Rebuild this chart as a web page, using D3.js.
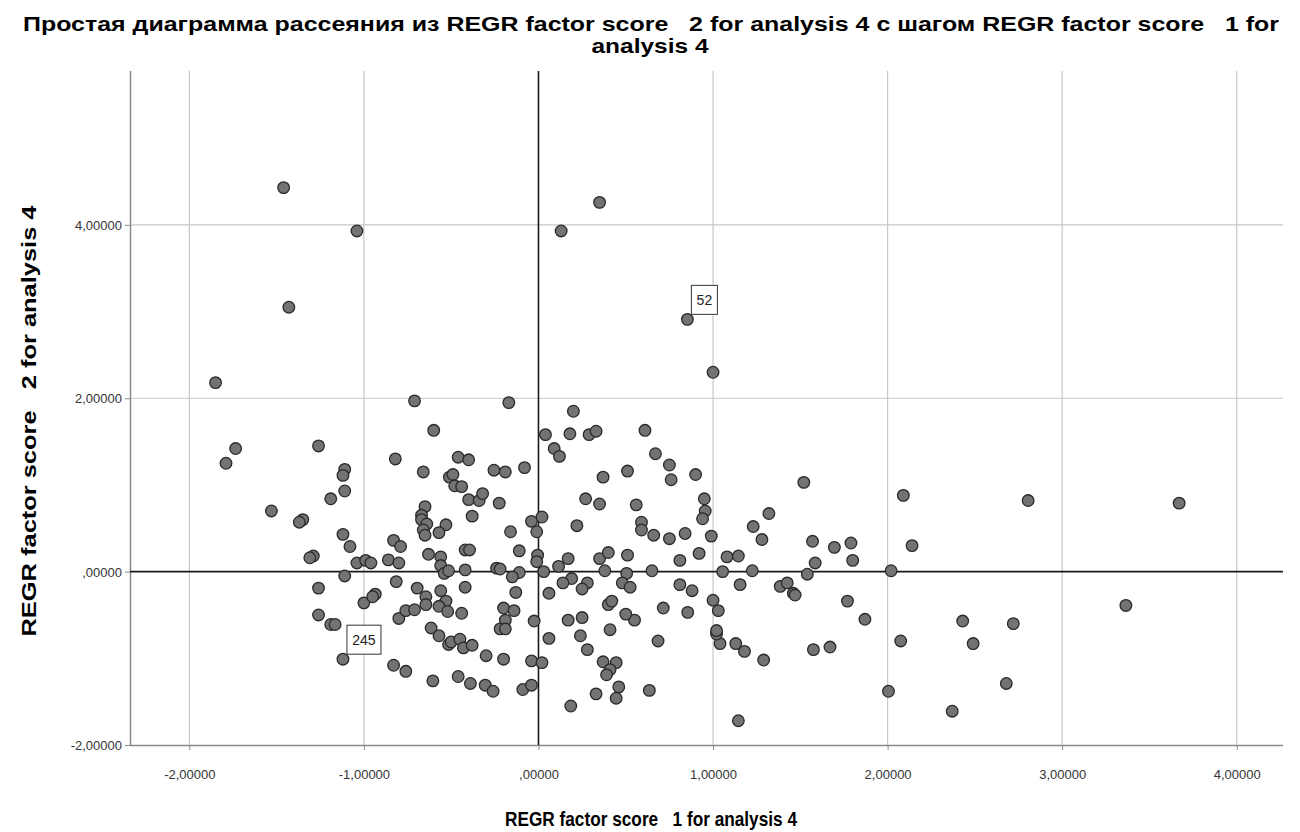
<!DOCTYPE html>
<html>
<head>
<meta charset="utf-8">
<script src="https://cdn.jsdelivr.net/npm/d3@7/dist/d3.min.js"></script>
<style>
  html, body { margin: 0; padding: 0; background: #fff; }
  svg { display: block; }
  text { white-space: pre; }
</style>
</head>
<body>
<svg id="chart" width="1300" height="832"></svg>
<script>
// ---------- DATA ----------
const titleLines = [
  "Простая диаграмма рассеяния из REGR factor score   2 for analysis 4 с шагом REGR factor score   1 for",
  "analysis 4"
];
const xTitle = "REGR factor score   1 for analysis 4";
const yTitle = "REGR factor score   2 for analysis 4";

const xTicks = [-2, -1, 0, 1, 2, 3, 4];
const xTickLabels = ["-2,00000", "-1,00000", ",00000", "1,00000", "2,00000", "3,00000", "4,00000"];
const yTicks = [-2, 0, 2, 4];
const yTickLabels = ["-2,00000", ",00000", "2,00000", "4,00000"];

// factor score 1 (x) and factor score 2 (y)
const score1 = [
  -1.46,-1.04,-1.43,0.35,0.13,0.853,-1.85,-0.71,-0.17,-0.60,
  -1.735,-1.79,-1.26,-1.11,-1.12,-1.11,-1.19,-1.53,-1.35,-1.37,
  -1.12,-1.08,-0.82,-0.66,-0.46,-0.40,-0.51,-0.49,-0.48,-0.44,
  -0.255,-0.19,-0.08,-0.40,-0.34,-0.32,-0.225,-0.38,-0.65,-0.67,
  -0.67,-0.64,-0.66,-0.65,-0.53,-0.57,-0.16,-0.04,0.02,-0.01,
  0.04,0.09,-0.83,-0.79,1.00,0.20,0.18,0.29,0.33,0.61,
  0.12,0.67,0.75,0.76,0.90,0.37,0.51,1.52,2.09,0.27,
  0.35,0.56,0.95,0.955,0.94,0.22,0.59,0.59,0.66,0.75,
  0.84,0.99,1.32,1.23,1.28,1.57,1.79,1.695,2.14,2.805,
  3.67,-1.29,-1.31,-1.04,-0.99,-0.96,-0.86,-0.80,-0.63,-0.56,
  -0.56,-0.54,-0.515,-0.42,-0.395,-0.42,-0.24,-0.22,-0.11,-0.11,
  -0.15,-0.005,-0.01,0.03,-1.11,-1.26,-1.26,-1.19,-1.165,-1.12,
  -1.00,-0.935,-0.95,-0.815,-0.80,-0.76,-0.71,-0.695,-0.645,-0.645,
  -0.56,-0.53,-0.57,-0.52,-0.44,-0.42,-0.615,-0.57,-0.515,-0.50,
  -0.45,-0.43,-0.38,-0.30,-0.20,-0.20,-0.14,-0.19,-0.22,-0.19,
  -0.13,-0.025,-0.04,0.02,0.06,0.06,-0.83,-0.76,-0.605,-0.46,
  -0.39,-0.305,-0.26,-0.09,-0.04,0.17,0.115,0.19,0.14,0.28,
  0.25,0.35,0.40,0.51,0.38,0.505,0.48,0.525,0.65,0.81,
  0.92,0.81,0.88,1.055,1.08,1.145,1.225,1.155,1.385,1.425,
  1.46,1.47,1.54,1.585,1.80,2.02,1.77,1.87,2.075,2.43,
  2.005,2.37,1.575,1.67,1.29,1.18,1.13,1.04,1.02,1.02,
  1.03,1.00,1.145,0.855,0.715,0.685,0.635,0.55,0.50,0.41,
  0.40,0.42,0.25,0.17,0.24,0.28,0.37,0.445,0.41,0.39,
  0.46,0.445,0.33,0.185,2.49,2.72,2.68,3.365
];
const score2 = [
  4.43,3.93,3.05,4.26,3.93,2.91,2.18,1.97,1.95,1.63,
  1.42,1.25,1.45,1.18,1.11,0.93,0.84,0.70,0.60,0.57,
  0.43,0.29,1.30,1.15,1.32,1.29,1.09,1.12,0.99,0.98,
  1.17,1.15,1.20,0.83,0.82,0.90,0.79,0.64,0.75,0.65,
  0.60,0.55,0.48,0.42,0.54,0.45,0.46,0.58,0.63,0.46,
  1.58,1.42,0.36,0.29,2.30,1.85,1.59,1.58,1.62,1.63,
  1.33,1.36,1.23,1.06,1.12,1.09,1.16,1.03,0.88,0.84,
  0.78,0.77,0.84,0.70,0.61,0.53,0.57,0.48,0.42,0.38,
  0.44,0.41,0.67,0.52,0.37,0.35,0.33,0.28,0.30,0.82,
  0.79,0.18,0.16,0.10,0.13,0.10,0.135,0.10,0.20,0.17,
  0.07,-0.02,0.01,0.25,0.25,0.02,0.04,0.03,0.24,-0.01,
  -0.06,0.19,0.115,0.00,-0.05,-0.19,-0.50,-0.61,-0.61,-1.01,
  -0.36,-0.26,-0.29,-0.115,-0.54,-0.45,-0.44,-0.19,-0.29,-0.38,
  -0.22,-0.34,-0.40,-0.46,-0.48,-0.18,-0.65,-0.74,-0.84,-0.81,
  -0.78,-0.88,-0.85,-0.97,-1.01,-0.42,-0.45,-0.56,-0.66,-0.66,
  -0.24,-0.57,-1.03,-1.05,-0.25,-0.77,-1.08,-1.15,-1.26,-1.21,
  -1.29,-1.31,-1.38,-1.36,-1.31,0.15,0.06,-0.08,-0.13,-0.13,
  -0.20,0.15,0.22,0.19,0.01,-0.02,-0.13,-0.18,0.01,0.13,
  0.21,-0.15,-0.22,0.00,0.17,0.18,0.01,-0.15,-0.17,-0.13,
  -0.25,-0.27,-0.03,0.10,0.13,0.01,-0.34,-0.55,-0.80,-0.57,
  -1.38,-1.61,-0.90,-0.87,-1.02,-0.92,-0.83,-0.83,-0.72,-0.68,
  -0.45,-0.33,-1.72,-0.47,-0.42,-0.80,-1.37,-0.56,-0.49,-0.67,
  -0.38,-0.34,-0.53,-0.56,-0.74,-0.90,-1.04,-1.05,-1.13,-1.19,
  -1.33,-1.46,-1.41,-1.55,-0.83,-0.60,-1.29,-0.39
];
// labelled cases: index into the score arrays and case number shown
const labelIndex = [5, 119];
const labelText = ["52", "245"];

// ---------- LAYOUT ----------
const plot = { left: 130, right: 1283, top: 71, bottom: 745 };

const svg = d3.select("#chart");
const x = d3.scaleLinear().domain([-2.34, 4.265]).range([plot.left, plot.right]);
const y = d3.scaleLinear().domain([-2, 5.775]).range([plot.bottom, plot.top]);

const font = "'Liberation Sans', Arial, sans-serif";

// grid lines
const g = svg.append("g");
g.selectAll(".vgrid").data(xTicks.filter(d => d !== 0)).enter().append("line")
  .attr("x1", d => x(d)).attr("x2", d => x(d))
  .attr("y1", plot.top).attr("y2", plot.bottom)
  .attr("stroke", "#c8c8c8").attr("stroke-width", 1.2);
g.selectAll(".hgrid").data(yTicks.filter(d => d !== 0 && d !== -2)).enter().append("line")
  .attr("x1", plot.left).attr("x2", plot.right)
  .attr("y1", d => y(d)).attr("y2", d => y(d))
  .attr("stroke", "#c8c8c8").attr("stroke-width", 1.2);

// axes
const xAxis = d3.axisBottom(x).tickValues(xTicks).tickSize(5)
  .tickFormat((d, i) => xTickLabels[i]);
const yAxis = d3.axisLeft(y).tickValues(yTicks).tickSize(5)
  .tickFormat((d, i) => yTickLabels[i]);

const gx = svg.append("g").attr("transform", `translate(0,${plot.bottom})`).call(xAxis);
gx.select(".domain").attr("d", `M${plot.left},0.5H${plot.right}`).attr("stroke", "#8a8a8a").attr("stroke-width", 1.5);
gx.selectAll(".tick line").attr("stroke", "#8a8a8a");
gx.selectAll(".tick text").attr("font-family", font).attr("font-size", 13)
  .attr("fill", "#333").attr("dy", "0").attr("y", 34);

const gy = svg.append("g").attr("transform", `translate(${plot.left},0)`).call(yAxis);
gy.select(".domain").attr("d", `M0.5,${plot.top}V${plot.bottom}`).attr("stroke", "#8a8a8a").attr("stroke-width", 1.5);
gy.selectAll(".tick line").attr("stroke", "#8a8a8a");
gy.selectAll(".tick text").attr("font-family", font).attr("font-size", 13)
  .attr("fill", "#333").attr("x", -8).attr("dy", "0.36em");

// reference lines at 0
svg.append("line").attr("x1", x(0)).attr("x2", x(0)).attr("y1", plot.top).attr("y2", plot.bottom)
  .attr("stroke", "#1a1a1a").attr("stroke-width", 1.6);
svg.append("line").attr("x1", plot.left).attr("x2", plot.right).attr("y1", y(0)).attr("y2", y(0))
  .attr("stroke", "#1a1a1a").attr("stroke-width", 1.6);

// points
const pts = score1.map((v, i) => ({ x: v, y: score2[i] }));
svg.append("g").selectAll("circle").data(pts).enter().append("circle")
  .attr("cx", d => x(d.x)).attr("cy", d => y(d.y)).attr("r", 5.8)
  .attr("fill", "#737373").attr("stroke", "#2a2a2a").attr("stroke-width", 1.3);

// case labels
labelIndex.forEach((idx, k) => {
  const px = x(score1[idx]), py = y(score2[idx]);
  const txt = labelText[k];
  const bw = txt.length * 8 + 10, bh = 29;
  const bx = px + 4, by = py - 5 - bh;
  const lg = svg.append("g");
  lg.append("rect").attr("x", bx).attr("y", by).attr("width", bw).attr("height", bh)
    .attr("fill", "#fff").attr("stroke", "#333").attr("stroke-width", 1);
  lg.append("text").attr("x", bx + bw / 2).attr("y", by + bh / 2 + 5)
    .attr("text-anchor", "middle").attr("font-family", font).attr("font-size", 14)
    .attr("fill", "#222").text(txt);
});

// title
svg.append("text").attr("x", 651).attr("y", 31).attr("text-anchor", "middle")
  .attr("font-family", font).attr("font-weight", "bold").attr("font-size", 20.5)
  .attr("textLength", 1256).attr("lengthAdjust", "spacingAndGlyphs")
  .attr("fill", "#000").text(titleLines[0]);
svg.append("text").attr("x", 650).attr("y", 53).attr("text-anchor", "middle")
  .attr("font-family", font).attr("font-weight", "bold").attr("font-size", 20.5)
  .attr("textLength", 117).attr("lengthAdjust", "spacingAndGlyphs")
  .attr("fill", "#000").text(titleLines[1]);

// axis titles
svg.append("text").attr("x", 651).attr("y", 826).attr("text-anchor", "middle")
  .attr("font-family", font).attr("font-weight", "bold").attr("font-size", 20.5)
  .attr("textLength", 292).attr("lengthAdjust", "spacingAndGlyphs")
  .attr("fill", "#000").text(xTitle);
svg.append("text").attr("transform", "translate(36,421) rotate(-90)").attr("text-anchor", "middle")
  .attr("font-family", font).attr("font-weight", "bold").attr("font-size", 20)
  .attr("textLength", 431).attr("lengthAdjust", "spacingAndGlyphs")
  .attr("fill", "#000").text(yTitle);
</script>
</body>
</html>
